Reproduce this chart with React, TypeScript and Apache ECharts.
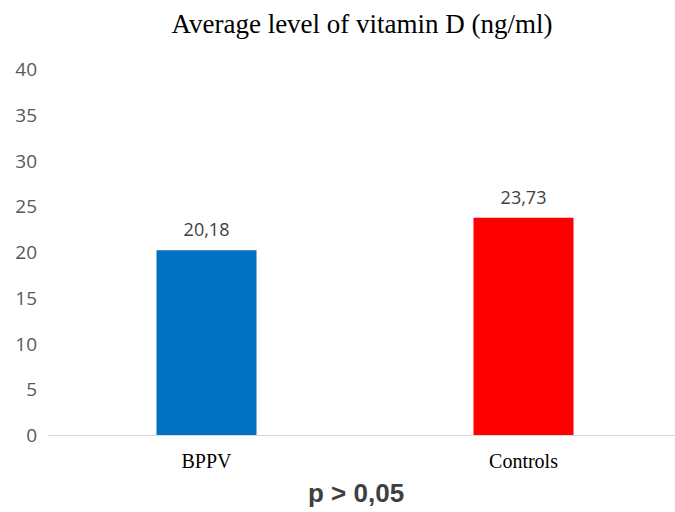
import React, { useEffect, useRef } from "react";
import * as echarts from "echarts";

const categories = ["BPPV", "Controls"];
const values = [20.18, 23.73];
const barColors = ["#0070C0", "#FF0000"];
const yTicks = [0, 5, 10, 15, 20, 25, 30, 35, 40];
const titleText = "Average level of vitamin D (ng/ml)";
const footnote = "p > 0,05";

export default function App() {
  const ref = useRef<HTMLDivElement>(null);
  useEffect(() => {
    if (!ref.current) return;
    const chart = echarts.init(ref.current, null, { renderer: "svg" });
    chart.setOption({
      animation: false,
      backgroundColor: "#ffffff",
      title: {
        text: titleText,
        left: 357,
        textAlign: "center",
        top: 5,
        textStyle: {
          fontFamily: "Liberation Serif",
          fontSize: 27,
          fontWeight: "normal",
          color: "#000000",
        },
      },
      grid: { left: 48, top: 69, width: 634, height: 366, containLabel: false },
      xAxis: {
        type: "category",
        data: categories,
        axisLine: { show: true, lineStyle: { color: "#D9D9D9", width: 1 } },
        axisTick: { show: false },
        axisLabel: {
          margin: 16,
          fontFamily: "Liberation Serif",
          fontSize: 20,
          color: "#000000",
        },
      },
      yAxis: {
        type: "value",
        min: yTicks[0],
        max: yTicks[yTicks.length - 1],
        interval: 5,
        splitLine: { show: false },
        axisLine: { show: false },
        axisTick: { show: false },
        axisLabel: {
          margin: 11,
          fontFamily: "Open Sans",
          fontSize: 19,
          color: "#595959",
          align: "right",
        },
      },
      series: [
        {
          type: "bar",
          barWidth: 100,
          data: values.map((v, i) => ({ value: v, itemStyle: { color: barColors[i] } })),
          label: {
            show: true,
            position: "top",
            distance: 12,
            fontFamily: "Open Sans",
            fontSize: 18,
            color: "#404040",
            formatter: (p: any) => String(p.value.toFixed(2)).replace(".", ","),
          },
        },
      ],
      graphic: [
        {
          type: "text",
          left: 308,
          top: 480,
          style: {
            text: footnote,
            x: 0,
            y: 0,
            font: "bold 26px 'Liberation Sans', Arial, sans-serif",
            fill: "#404040",
          },
        },
      ],
    });
    return () => chart.dispose();
  }, []);
  return (
    <div style={{ width: 675, height: 512, position: "absolute", left: 0, top: 0, overflow: "hidden" }}>
      <div ref={ref} style={{ width: 700, height: 512 }} />
    </div>
  );
}
